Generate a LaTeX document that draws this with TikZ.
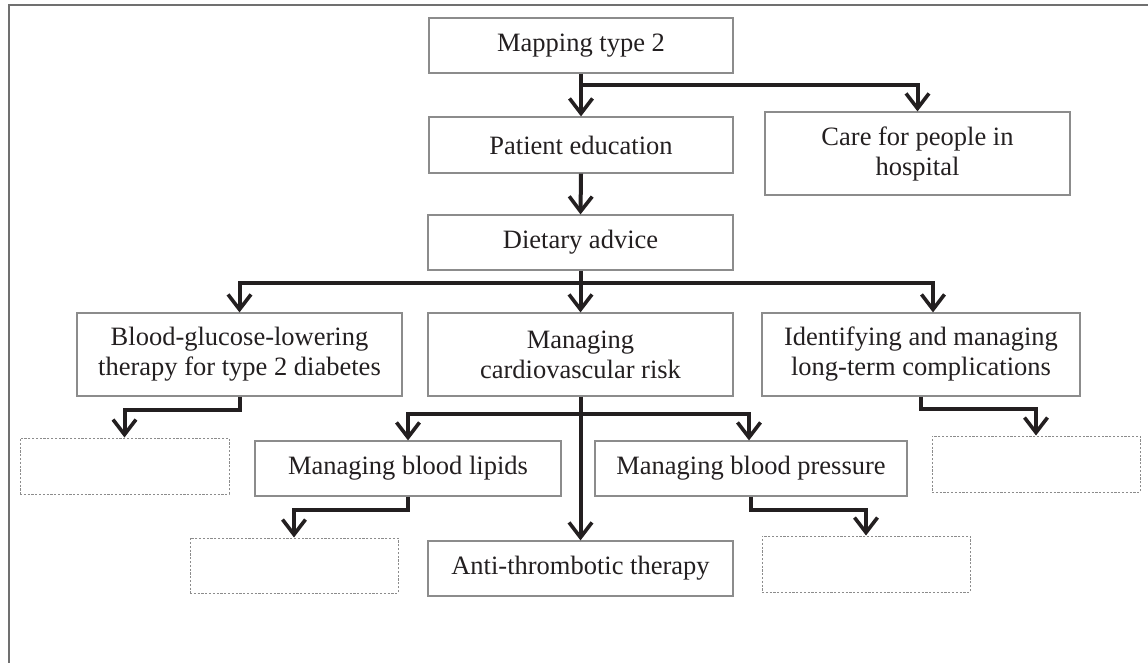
\documentclass[tikz,border=0pt]{standalone}
\usepackage{fontspec}
\setmainfont{Liberation Serif}
\usetikzlibrary{arrows.meta,calc}
\definecolor{ink}{HTML}{231F20}
\definecolor{edge}{HTML}{8C8C8C}
\definecolor{frame}{HTML}{707070}
\tikzset{
  box/.style={draw=edge, line width=1.2pt, text=ink, align=center, inner sep=0pt,
    font=\fontsize{26.5}{30}\selectfont},
  blank/.style={draw=edge, line width=1pt, dash pattern=on 2.2pt off 1.6pt, inner sep=0pt},
  conn/.style={draw=ink, line width=4pt, line join=miter,
    -{Straight Barb[length=15pt,width=23pt,line width=3.6pt]}},
}
\begin{document}
\begin{tikzpicture}[x=1pt,y=-1pt]
\useasboundingbox (0,0) rectangle (1148,663);
% outer frame (top and left edges only)
\draw[frame, line width=1.6pt] (9,663) -- (9,5) -- (1148,5);

% boxes
\node[box, minimum width=304pt, minimum height=55pt] (map)  at (581,45.5)  {Mapping type 2};
\node[box, minimum width=304pt, minimum height=56pt] (pat)  at (581,145)   {Patient education};
\node[box, minimum width=305pt, minimum height=83pt] (care) at (917.5,153.5) {Care for people in\\hospital};
\node[box, minimum width=305pt, minimum height=55pt] (diet) at (580.5,242.5) {Dietary advice};
\node[box, minimum width=325pt, minimum height=83pt] (glu)  at (239.5,354.5) {Blood-glucose-lowering\\therapy for type 2 diabetes};
\node[box, minimum width=305pt, minimum height=83pt] (cvr)  at (580.5,354.5) {Managing\\cardiovascular risk};
\node[box, minimum width=318pt, minimum height=83pt] (ltc)  at (921,354.5)  {Identifying and managing\\long-term complications};
\node[box, minimum width=306pt, minimum height=55pt] (lip)  at (408,468.5)  {Managing blood lipids};
\node[box, minimum width=312pt, minimum height=55pt] (bp)   at (751,468.5)  {Managing blood pressure};
\node[box, minimum width=305pt, minimum height=55pt] (anti) at (580.5,568.5) {Anti-thrombotic therapy};

% empty placeholder boxes
\node[blank, minimum width=209pt, minimum height=56pt] (gluE) at (124.5,466) {};
\node[blank, minimum width=208pt, minimum height=55pt] (lipE) at (294,565.5) {};
\node[blank, minimum width=208pt, minimum height=56pt] (bpE)  at (866,564)   {};
\node[blank, minimum width=208pt, minimum height=56pt] (ltcE) at (1036,464)  {};

% connectors
\draw[conn] (map.south) -- (pat.north);
\draw[conn] ($(map.south)+(0,11)$) -| (care.north);
\draw[conn] (pat.south) -- (diet.north);

\draw[conn] (diet.south) -- (cvr.north);
\draw[conn] ($(diet.south)+(0,12)$) -| (glu.north);
\draw[conn] ($(diet.south)+(0,12)$) -| ($(ltc.north)+(12,0)$);

\draw[conn] (cvr.south) -- (anti.north);
\draw[conn] ($(cvr.south)+(0,17)$) -| (lip.north);
\draw[conn] ($(cvr.south)+(0,17)$) -| ($(bp.north)+(-2,0)$);

\draw[conn] (glu.south) -- ++(0,13) -| (gluE.north);
\draw[conn] (lip.south) -- ++(0,13) -| (lipE.north);
\draw[conn] (bp.south) -- ++(0,13) -| (bpE.north);
\draw[conn] (ltc.south) -- ++(0,12) -| (ltcE.north);
\end{tikzpicture}
\end{document}
